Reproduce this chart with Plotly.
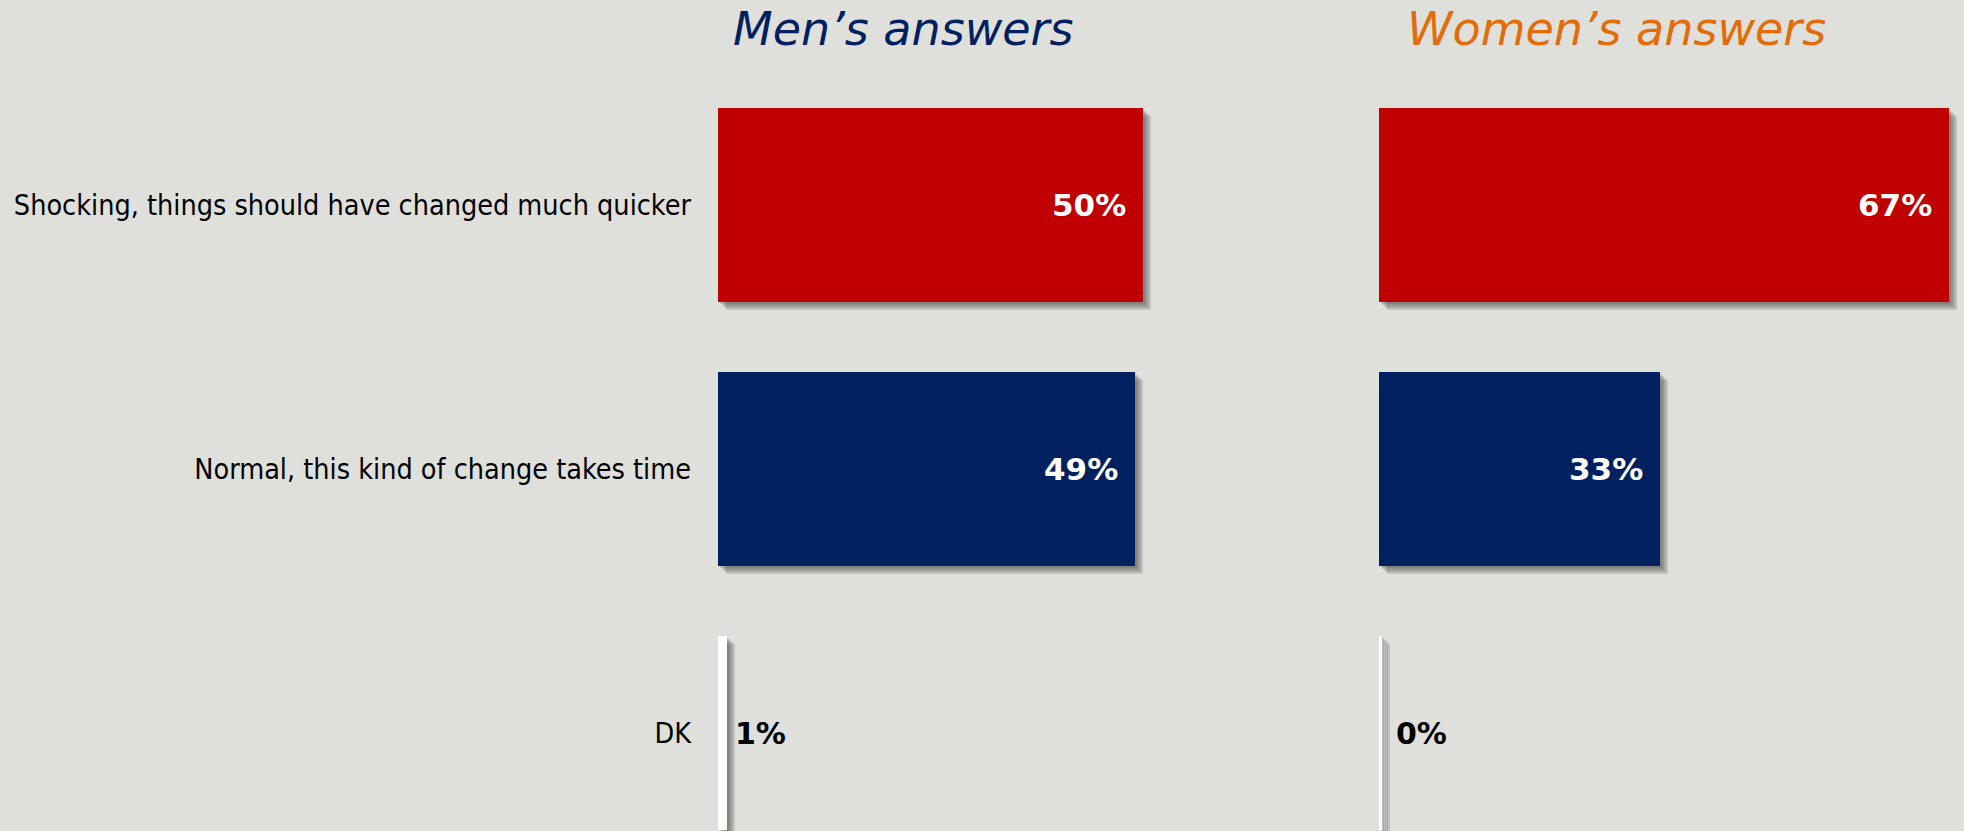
import plotly.graph_objects as go

# Survey answers, by respondent group
categories = [
    "Shocking, things should have changed much quicker",
    "Normal, this kind of change takes time",
    "DK",
]
men_values = [50, 49, 1]
women_values = [67, 33, 0.4]
panel_titles = ["Men\u2019s answers", "Women\u2019s answers"]

# Styling
BG = "#DFE0DB"
BAR_COLORS = ["#C00000", "#002060", "#FFFFFF"]
LABEL_COLORS = ["#FFFFFF", "#FFFFFF", "#000000"]
TITLE_COLORS = ["#002060", "#E36C09"]
W, H = 1964, 831
TOP = 73
BAR_WIDTH = 0.735
PX_PER_PCT = 8.5                 # horizontal scale shared by both panels
Y_RANGE = [2.37, -0.5]           # reversed: first category on top
PX_PER_CAT = (H - TOP) / (Y_RANGE[0] - Y_RANGE[1])

# panel placement in pixels: (left, right)
panels = [(718, 1230), (1379, 1964)]
title_centers = [903, 1616]

ypos = list(range(len(categories)))

fig = go.Figure()

for p, (values, (left, right)) in enumerate(zip([men_values, women_values], panels)):
    xname = "x" if p == 0 else "x2"
    # soft drop shadow built from a few offset translucent layers
    for d in (2, 4, 6, 8):
        fig.add_trace(go.Bar(
            x=values, y=ypos, orientation="h",
            base=d / PX_PER_PCT,
            width=BAR_WIDTH,
            offset=-BAR_WIDTH / 2 + d / PX_PER_CAT,
            marker=dict(color="rgba(70,70,65,0.2)", line=dict(width=0)),
            xaxis=xname, yaxis="y", hoverinfo="skip", showlegend=False,
        ))
    fig.add_trace(go.Bar(
        x=values, y=ypos, orientation="h",
        width=BAR_WIDTH,
        marker=dict(color=BAR_COLORS, line=dict(width=0)),
        xaxis=xname, yaxis="y", showlegend=False,
    ))

    xmax = (right - left) / PX_PER_PCT
    axis = dict(
        domain=[left / W, right / W], range=[0, xmax], visible=False,
        fixedrange=True, anchor="y",
    )
    if p == 0:
        fig.update_layout(xaxis=axis)
    else:
        fig.update_layout(xaxis2=axis)

    # value labels
    xref = "x" if p == 0 else "x2"
    for i, v in enumerate(values):
        text = f"<b>{v:.0f}%</b>"
        if i < 2:
            fig.add_annotation(
                x=v, y=ypos[i], xref=xref, yref="y",
                text=text, showarrow=False, xanchor="right", yanchor="middle",
                xshift=-15,
                font=dict(family="DejaVu Sans", size=31, color=LABEL_COLORS[i]),
            )
        else:
            fig.add_annotation(
                x=0, y=ypos[i], xref=xref, yref="y",
                text=text, showarrow=False, xanchor="left", yanchor="middle",
                xshift=15,
                font=dict(family="DejaVu Sans", size=30, color=LABEL_COLORS[i]),
            )

# panel titles
for title, color, cx in zip(panel_titles, TITLE_COLORS, title_centers):
    fig.add_annotation(
        x=cx / W, y=1 + (TOP - 29) / (H - TOP), xref="paper", yref="paper",
        text=title, showarrow=False, xanchor="center", yanchor="middle",
        font=dict(family="DejaVu Sans", size=46, color=color, style="italic"),
    )

fig.update_layout(
    width=W, height=H, autosize=False,
    margin=dict(l=0, r=0, t=TOP, b=0, pad=0),
    paper_bgcolor=BG, plot_bgcolor=BG,
    barmode="overlay", bargap=0,
    yaxis=dict(
        range=Y_RANGE, tickvals=ypos, ticktext=categories,
        showgrid=False, zeroline=False, showline=False, ticks="",
        ticklabelstandoff=26, anchor="x", fixedrange=True,
        tickfont=dict(family="DejaVu Sans Condensed", size=28.5, color="#000000"),
    ),
)

fig.write_html("out.html", config={"displayModeBar": False})
